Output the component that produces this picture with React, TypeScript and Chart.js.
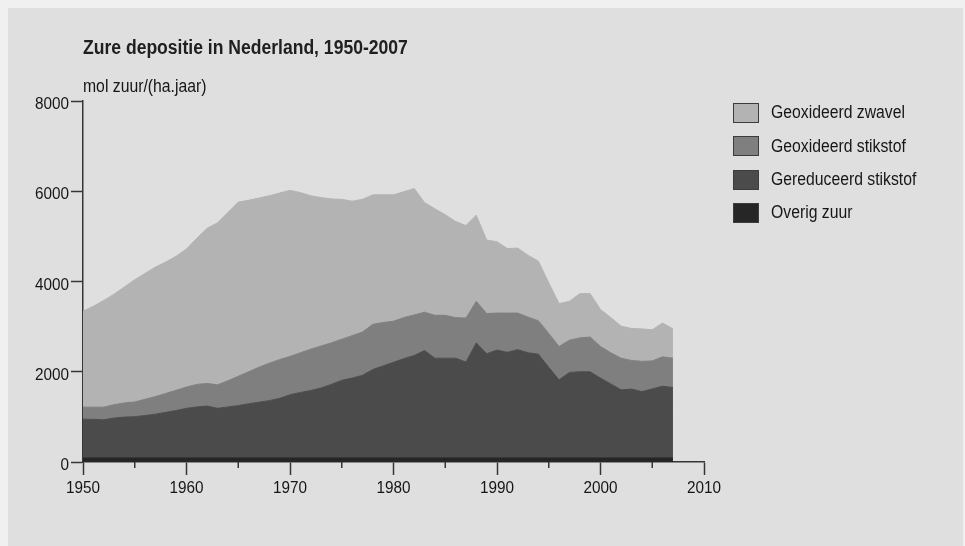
import React, { useEffect, useRef } from "react";
import { Chart, registerables } from "chart.js";

Chart.register(...registerables);

const years = [
  1950, 1951, 1952, 1953, 1954, 1955, 1956, 1957, 1958, 1959,
  1960, 1961, 1962, 1963, 1964, 1965, 1966, 1967, 1968, 1969,
  1970, 1971, 1972, 1973, 1974, 1975, 1976, 1977, 1978, 1979,
  1980, 1981, 1982, 1983, 1984, 1985, 1986, 1987, 1988, 1989,
  1990, 1991, 1992, 1993, 1994, 1995, 1996, 1997, 1998, 1999,
  2000, 2001, 2002, 2003, 2004, 2005, 2006, 2007,
];

const overigZuur = [
  90, 90, 90, 90, 90, 90, 90, 90, 90, 90,
  90, 90, 90, 90, 90, 90, 90, 90, 90, 90,
  90, 90, 90, 90, 90, 90, 90, 90, 90, 90,
  90, 90, 90, 90, 90, 90, 90, 90, 90, 90,
  90, 90, 90, 90, 90, 90, 90, 90, 90, 90,
  90, 90, 90, 90, 90, 90, 90, 90,
];

const gereduceerdStikstof = [
  860, 855, 845, 885, 905, 915, 940, 970, 1010, 1050,
  1100, 1130, 1150, 1100, 1130, 1160, 1200, 1235, 1270, 1320,
  1400, 1450, 1495, 1550, 1630, 1720, 1770, 1830, 1960, 2040,
  2120, 2200, 2270, 2380, 2210, 2210, 2210, 2125, 2550, 2310,
  2390, 2340, 2400, 2330, 2300, 2010, 1730, 1895, 1910, 1910,
  1770, 1640, 1510, 1525, 1470, 1530, 1590, 1560,
];

const geoxideerdStikstof = [
  265, 270, 280, 295, 315, 325, 360, 390, 420, 450,
  470, 500, 500, 520, 580, 650, 710, 775, 830, 860,
  850, 880, 915, 930, 920, 910, 940, 960, 1000, 960,
  910, 910, 900, 850, 950, 950, 900, 975, 920, 890,
  820, 870, 810, 790, 740, 750, 740, 715, 750, 770,
  700, 690, 700, 635, 670, 620, 650, 650,
];

const geoxideerdZwavel = [
  2125, 2235, 2365, 2450, 2570, 2710, 2790, 2870, 2910, 2970,
  3060, 3240, 3440, 3590, 3730, 3860, 3800, 3750, 3710, 3690,
  3680, 3550, 3400, 3290, 3190, 3100, 2980, 2940, 2870, 2830,
  2800, 2790, 2800, 2430, 2360, 2230, 2130, 2050, 1910, 1630,
  1580, 1430, 1440, 1370, 1320, 1120, 950, 860, 980, 960,
  820, 780, 710, 710, 720, 690, 750, 650,
];

const yTicks = [0, 2000, 4000, 6000, 8000];
const xTickLabels = [1950, 1960, 1970, 1980, 1990, 2000, 2010];

const title = "Zure depositie in Nederland, 1950-2007";
const unitLabel = "mol zuur/(ha.jaar)";

const seriesNames = [
  "Geoxideerd zwavel",
  "Geoxideerd stikstof",
  "Gereduceerd stikstof",
  "Overig zuur",
];
const seriesColors = ["#b3b3b3", "#7f7f7f", "#4b4b4b", "#262626"];

const FONT = '"Liberation Sans", Arial, Helvetica, sans-serif';
const AXIS = "#363636";
const TEXT = "#161616";
const SQUEEZE = 0.9;

const axisExtrasPlugin = {
  id: "axisExtras",
  afterDraw(chart: any) {
    const xs = chart.scales.x;
    const ys = chart.scales.y;
    const ctx = chart.ctx;
    ctx.save();
    // minor ticks on x axis
    ctx.strokeStyle = AXIS;
    ctx.lineWidth = 1.5;
    xs.ticks.forEach((t: any) => {
      if (!xTickLabels.includes(t.value)) {
        const px = xs.getPixelForValue(t.value);
        ctx.beginPath();
        ctx.moveTo(px, xs.top);
        ctx.lineTo(px, xs.top + 6);
        ctx.stroke();
      }
    });
    // tick labels, slightly condensed like the original
    ctx.fillStyle = TEXT;
    ctx.font = `17px ${FONT}`;
    ctx.textBaseline = "alphabetic";
    xTickLabels.forEach((v) => {
      const px = xs.getPixelForValue(v);
      ctx.save();
      ctx.translate(px, xs.top + 31);
      ctx.scale(SQUEEZE, 1);
      ctx.textAlign = "center";
      ctx.fillText(String(v), 0, 0);
      ctx.restore();
    });
    yTicks.forEach((v) => {
      const py = ys.getPixelForValue(v);
      ctx.save();
      ctx.translate(ys.right - 14, py + 8);
      ctx.scale(SQUEEZE, 1);
      ctx.textAlign = "right";
      ctx.fillText(String(v), 0, 0);
      ctx.restore();
    });
    ctx.restore();
  },
};

export default function App() {
  const ref = useRef<HTMLCanvasElement | null>(null);

  useEffect(() => {
    if (!ref.current) return;
    const toPts = (arr: number[]) => years.map((x, i) => ({ x, y: arr[i] }));
    const stackOrder = [overigZuur, gereduceerdStikstof, geoxideerdStikstof, geoxideerdZwavel];
    const datasets = stackOrder.map((arr, i) => {
      const idx = 3 - i;
      return {
        label: seriesNames[idx],
        data: toPts(arr),
        backgroundColor: seriesColors[idx],
        borderColor: seriesColors[idx],
        borderWidth: 1,
        pointRadius: 0,
        tension: 0,
        fill: i === 0 ? "origin" : "-1",
      };
    });

    const chart = new Chart(ref.current, {
      type: "line",
      data: { datasets: datasets as any },
      plugins: [axisExtrasPlugin],
      options: {
        animation: false,
        responsive: false,
        maintainAspectRatio: false,
        layout: { padding: { top: 101, right: 261, left: 0, bottom: 0 } },
        plugins: {
          legend: { display: false },
          tooltip: { enabled: false },
        },
        scales: {
          x: {
            type: "linear",
            min: 1950,
            max: 2010,
            afterFit: (s: any) => {
              s.height = 84;
            },
            ticks: {
              display: false,
              stepSize: 5,
              autoSkip: false,
              maxRotation: 0,
            },
            grid: {
              drawOnChartArea: false,
              drawTicks: true,
              tickLength: 13,
              tickWidth: 1.5,
              tickColor: (c: any) =>
                c.tick && xTickLabels.includes(c.tick.value) ? AXIS : "rgba(0,0,0,0)",
            },
            border: { display: true, color: AXIS, width: 1.5 },
          },
          y: {
            type: "linear",
            stacked: true,
            min: 0,
            max: 8000,
            afterFit: (s: any) => {
              s.width = 83;
            },
            afterBuildTicks: (s: any) => {
              s.ticks = yTicks.map((v) => ({ value: v }));
            },
            ticks: {
              display: false,
            },
            grid: {
              drawOnChartArea: false,
              drawTicks: true,
              tickLength: 12,
              tickWidth: 1.5,
              tickColor: AXIS,
            },
            border: { display: true, color: AXIS, width: 1.5 },
          },
        },
      },
    });
    return () => chart.destroy();
  }, []);

  const squeezed: React.CSSProperties = {
    transform: `scaleX(${SQUEEZE})`,
    transformOrigin: "left center",
    whiteSpace: "nowrap",
    lineHeight: 1,
    color: TEXT,
  };

  return (
    <div
      style={{
        position: "fixed",
        left: 0,
        top: 0,
        width: 965,
        height: 546,
        background: "#f0f0f0",
        overflow: "hidden",
        fontFamily: FONT,
      }}
    >
      <div
        style={{
          position: "absolute",
          left: 8,
          top: 8,
          width: 955,
          height: 560,
          background: "#dfdfdf",
        }}
      />
      <canvas
        ref={ref}
        width={965}
        height={546}
        style={{ position: "absolute", left: 0, top: 0, width: 965, height: 546 }}
      />
      <div
        style={{
          ...squeezed,
          position: "absolute",
          left: 83,
          top: 37.5,
          fontSize: 19.5,
          fontWeight: "bold",
          color: "#202020",
        }}
      >
        {title}
      </div>
      <div
        style={{
          ...squeezed,
          position: "absolute",
          left: 83,
          top: 78,
          fontSize: 17.5,
        }}
      >
        {unitLabel}
      </div>
      {seriesNames.map((name, i) => (
        <div
          key={name}
          style={{
            position: "absolute",
            left: 733,
            top: 103 + i * 33.3,
            height: 20,
            display: "flex",
            alignItems: "center",
            whiteSpace: "nowrap",
          }}
        >
          <div
            style={{
              width: 26,
              height: 20,
              flex: "none",
              boxSizing: "border-box",
              border: "1.5px solid #3c3c3c",
              background: seriesColors[i],
            }}
          />
          <span
            style={{
              ...squeezed,
              display: "inline-block",
              marginLeft: 12,
              fontSize: 17.5,
            }}
          >
            {name}
          </span>
        </div>
      ))}
    </div>
  );
}
